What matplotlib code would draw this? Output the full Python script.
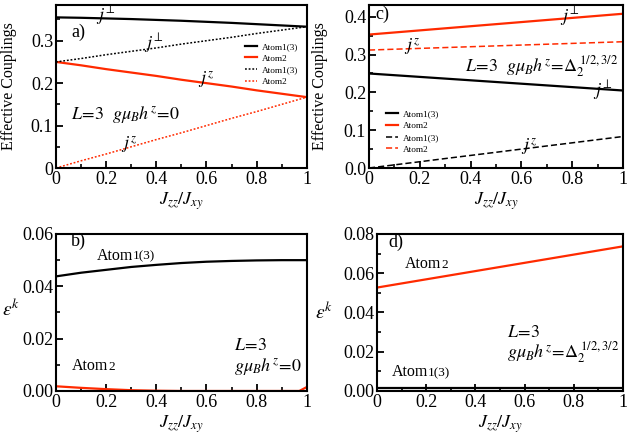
import numpy as np
import matplotlib
matplotlib.use('Agg')
import matplotlib.pyplot as plt
from matplotlib.ticker import MultipleLocator, FormatStrFormatter
from matplotlib.offsetbox import TextArea, HPacker, AnnotationBbox

plt.rcParams['font.family'] = 'serif'
plt.rcParams['font.serif'] = ['Liberation Serif', 'STIXGeneral', 'DejaVu Serif']
plt.rcParams['mathtext.fontset'] = 'stix'
plt.rcParams['axes.linewidth'] = 1.5
plt.rcParams['xtick.direction'] = 'in'
plt.rcParams['ytick.direction'] = 'in'

RED = '#ff2a00'

# x grid
jz = [0.0, 0.1, 0.2, 0.3, 0.4, 0.5, 0.6, 0.7, 0.8, 0.9, 1.0]

# panel a) gμh = 0
a_atom13_solid = [0.355, 0.354, 0.3525, 0.351, 0.349, 0.347, 0.3445, 0.342, 0.339, 0.336, 0.333]
a_atom2_solid = [0.250, 0.242, 0.233, 0.225, 0.217, 0.208, 0.200, 0.192, 0.183, 0.175, 0.167]
a_atom13_dot = [0.250, 0.258, 0.267, 0.275, 0.283, 0.292, 0.300, 0.308, 0.317, 0.325, 0.333]
a_atom2_dot = [0.000, 0.017, 0.033, 0.050, 0.067, 0.083, 0.100, 0.117, 0.133, 0.150, 0.167]

# panel c) gμh = Δ2
c_atom13_solid = [0.250, 0.2455, 0.241, 0.2365, 0.232, 0.2275, 0.223, 0.2185, 0.214, 0.2095, 0.205]
c_atom2_solid = [0.353, 0.3585, 0.364, 0.3695, 0.375, 0.3805, 0.386, 0.3915, 0.397, 0.4025, 0.408]
c_atom13_dash = [0.000, 0.0083, 0.0166, 0.025, 0.0333, 0.0416, 0.050, 0.0583, 0.0666, 0.075, 0.0833]
c_atom2_dash = [0.312, 0.3142, 0.3164, 0.3186, 0.3208, 0.323, 0.3252, 0.3274, 0.3296, 0.3318, 0.334]

# panel b) entanglement, gμh = 0
b_x2 = [0.0, 0.1, 0.2, 0.3, 0.4, 0.5, 0.6, 0.7, 0.8, 0.9, 0.97, 1.0]
b_atom13 = [0.0438, 0.0452, 0.0463, 0.0474, 0.0482, 0.0489, 0.0494, 0.0497, 0.0499, 0.0500, 0.0500]
b_atom2 = [0.0018, 0.0012, 0.0007, 0.0003, 0.0001, 0.0, 0.0, 0.0, 0.0, 0.0, 0.0, 0.0015]

# panel d) entanglement, gμh = Δ2
d_atom2 = [0.0527, 0.0548, 0.0569, 0.0590, 0.0611, 0.0632, 0.0653, 0.0674, 0.0695, 0.0716, 0.0737]
d_atom13 = [0.0014, 0.0014, 0.0014, 0.0014, 0.0014, 0.0014, 0.0014, 0.0014, 0.0014, 0.0014, 0.0014]

fig = plt.figure(figsize=(6.27, 4.44), dpi=100)
ax_a = fig.add_axes([0.0893, 0.6216, 0.400, 0.367])
ax_c = fig.add_axes([0.5885, 0.6216, 0.405, 0.367])
ax_b = fig.add_axes([0.0893, 0.1194, 0.400, 0.3536])
ax_d = fig.add_axes([0.6013, 0.1194, 0.3923, 0.3536])


def style(ax, ymaj, ymin, yfmt):
    ax.set_xlim(0, 1)
    ax.xaxis.set_major_locator(MultipleLocator(0.2))
    ax.xaxis.set_minor_locator(MultipleLocator(0.1))
    ax.yaxis.set_major_locator(MultipleLocator(ymaj))
    ax.yaxis.set_minor_locator(MultipleLocator(ymin))
    ax.xaxis.set_major_formatter(lambda v, p: '0' if abs(v) < 1e-9 else ('1' if abs(v - 1) < 1e-9 else f'{v:.1f}'))
    ax.yaxis.set_major_formatter(yfmt)
    ax.tick_params(which='major', length=5, width=1.3, labelsize=13, pad=2)
    ax.tick_params(which='minor', length=3, width=1.2)
    ax.tick_params(top=False, right=False, which='both')
    ax.set_xlabel(r'$J_{zz}/J_{xy}$', fontsize=13, labelpad=2)


def atom_label(ax, x, y, small):
    box = HPacker(children=[TextArea('Atom', textprops=dict(fontsize=11.5)),
                            TextArea(small, textprops=dict(fontsize=9.5))],
                  align='baseline', pad=0, sep=0)
    ab = AnnotationBbox(box, (x, y), xycoords='data', frameon=False,
                        box_alignment=(0, 0), pad=0)
    ax.add_artist(ab)


JPERP = r'$j^{\!\perp}$'
JZ = r'$j^{z}$'

# ---- a)
ax = ax_a
ax.plot(jz, a_atom13_solid, color='black', lw=1.6, label='Atom1(3)')
ax.plot(jz, a_atom2_solid, color=RED, lw=1.6, label='Atom2')
ax.plot(jz, a_atom13_dot, color='black', lw=1.1, ls=(0, (1.2, 1.2)), label='Atom1(3)')
ax.plot(jz, a_atom2_dot, color=RED, lw=1.1, ls=(0, (1.2, 1.2)), label='Atom2')
ax.set_ylim(0, 0.384)
style(ax, 0.1, 0.05, lambda v, p: '0' if abs(v) < 1e-9 else f'{v:.1f}')
ax.set_ylabel('Effective Couplings', fontsize=11.5)
ax.yaxis.set_label_coords(-0.155, 0.5)
ax.legend(loc='upper left', bbox_to_anchor=(0.735, 0.80), frameon=False, fontsize=6.7,
          handlelength=1.3, handletextpad=0.5, labelspacing=0.35, borderpad=0)
ax.text(0.06, 0.31, 'a)', fontsize=13)
ax.text(0.06, 0.115, r'$L\!=\!3\ \ g\mu_B h^{z}\!=\!0$', fontsize=13)
ax.text(0.2, 0.348, JPERP, fontsize=13, ha='center')
ax.text(0.39, 0.282, JPERP, fontsize=13, ha='center')
ax.text(0.6, 0.198, JZ, fontsize=13, ha='center')
ax.text(0.29, 0.045, JZ, fontsize=13, ha='center')

# ---- c)
ax = ax_c
ax.plot(jz, c_atom13_solid, color='black', lw=1.6, label='Atom1(3)')
ax.plot(jz, c_atom2_solid, color=RED, lw=1.6, label='Atom2')
ax.plot(jz, c_atom13_dash, color='black', lw=1.1, ls=(0, (4, 2)), label='Atom1(3)')
ax.plot(jz, c_atom2_dash, color=RED, lw=1.1, ls=(0, (4, 2)), label='Atom2')
ax.set_ylim(0, 0.431)
style(ax, 0.1, 0.05, FormatStrFormatter('%.1f'))
ax.set_ylabel('Effective Couplings', fontsize=11.5)
ax.yaxis.set_label_coords(-0.16, 0.5)
ax.legend(loc='upper left', bbox_to_anchor=(0.05, 0.385), frameon=False, fontsize=6.7,
          handlelength=1.3, handletextpad=0.5, labelspacing=0.35, borderpad=0)
ax.text(0.025, 0.395, 'c)', fontsize=13)
ax.text(0.38, 0.252, r'$L\!=\!3\ \ g\mu_B h^{z}\!=\!\Delta_2^{\ 1/2,3/2}$', fontsize=13)
ax.text(0.79, 0.388, JPERP, fontsize=13, ha='center')
ax.text(0.17, 0.310, JZ, fontsize=13, ha='center')
ax.text(0.92, 0.19, JPERP, fontsize=13, ha='center')
ax.text(0.63, 0.045, JZ, fontsize=13, ha='center')

# ---- b)
ax = ax_b
ax.plot(jz, b_atom13, color='black', lw=1.6)
ax.plot(b_x2, b_atom2, color=RED, lw=1.6)
ax.set_ylim(0, 0.06)
style(ax, 0.02, 0.01, FormatStrFormatter('%.2f'))
ax.set_ylabel(r'$\varepsilon^{k}$', fontsize=14, rotation=0, va='center', ha='center')
ax.yaxis.set_label_coords(-0.18, 0.52)
ax.text(0.06, 0.0553, 'b)', fontsize=13)
atom_label(ax, 0.163, 0.0487, '1(3)')
atom_label(ax, 0.065, 0.0065, '2')
ax.text(0.71, 0.0155, r'$L\!=\!3$', fontsize=13)
ax.text(0.71, 0.0075, r'$g\mu_B h^{z}\!=\!0$', fontsize=13)

# ---- d)
ax = ax_d
ax.plot(jz, d_atom2, color=RED, lw=1.6)
ax.plot(jz, d_atom13, color='black', lw=1.6)
ax.set_ylim(0, 0.08)
style(ax, 0.02, 0.01, FormatStrFormatter('%.2f'))
ax.set_ylabel(r'$\varepsilon^{k}$', fontsize=14, rotation=0, va='center', ha='center')
ax.yaxis.set_label_coords(-0.215, 0.5)
ax.text(0.045, 0.0735, 'd)', fontsize=13)
atom_label(ax, 0.115, 0.0605, '2')
atom_label(ax, 0.06, 0.0055, '1(3)')
ax.text(0.53, 0.0275, r'$L\!=\!3$', fontsize=13)
ax.text(0.53, 0.0165, r'$g\mu_B h^{z}\!=\!\Delta_2^{\ 1/2,3/2}$', fontsize=13)

fig.savefig('out.png', dpi=100)
plt.close(fig)
